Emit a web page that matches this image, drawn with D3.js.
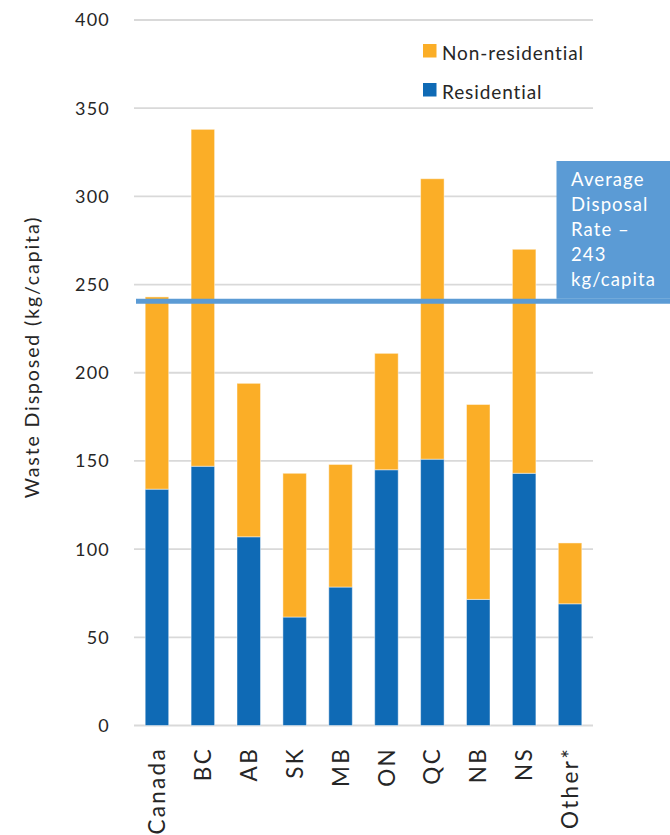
<!DOCTYPE html>
<html>
<head>
<meta charset="utf-8">
<script src="https://cdn.jsdelivr.net/npm/d3@7"></script>
<style>
  html,body{margin:0;padding:0;background:#fff;}
  svg{display:block;font-family:Lato,'Open Sans',sans-serif;}
</style>
</head>
<body>
<svg id="chart" width="670" height="835"></svg>
<script>
/* ── data ── */
var regions=['Canada','BC','AB','SK','MB','ON','QC','NB','NS','Other*'];
var residential=[134,147,107,61.5,78.5,145,151,71.5,143,69];
var totals=[243,338,194,143,148,211,310,182,270,103.5];
var nonResidential=totals.map(function(t,i){return t-residential[i];});
var yTicks=[0,50,100,150,200,250,300,350,400];
var avgLine=240.5;
var avgLabel=['Average','Disposal','Rate –','243','kg/capita'];
var legendItems=[{name:'Non-residential',col:'#FBAE27'},{name:'Residential',col:'#0F6AB5'}];

var BLUE='#0F6AB5', ORANGE='#FBAE27', AVG='#5B9BD5';

var svg=d3.select('#chart');
var X0=134, X1=593;
var x=d3.scaleBand().domain(regions).range([X0,X1]).paddingInner(0.488).paddingOuter(0.244);
var y=d3.scaleLinear().domain([0,400]).range([725.5,20]);

/* ── gridlines ── */
svg.append('g').selectAll('line').data(yTicks).enter().append('line')
  .attr('x1',X0).attr('x2',X1)
  .attr('y1',function(d){return y(d);}).attr('y2',function(d){return y(d);})
  .attr('stroke','#d9d9d9').attr('stroke-width',1.8);

/* ── y tick labels ── */
svg.append('g').selectAll('text').data(yTicks).enter().append('text')
  .attr('x',110).attr('y',function(d){return y(d);}).attr('dy','0.36em')
  .attr('text-anchor','end').attr('font-size',18).attr('letter-spacing','1.2px')
  .attr('fill','#262626').text(function(d){return d;});

/* ── y title ── */
svg.append('text')
  .attr('transform','translate(39,357) rotate(-90)')
  .attr('text-anchor','middle').attr('font-size',19.5).attr('letter-spacing','1.9px')
  .attr('fill','#262626').text('Waste Disposed (kg/capita)');

/* ── stacked bars ── */
var bars=svg.append('g');
regions.forEach(function(r,i){
  bars.append('rect')
    .attr('x',x(r)).attr('width',x.bandwidth())
    .attr('y',y(residential[i])).attr('height',y(0)-y(residential[i]))
    .attr('fill',BLUE).attr('stroke','rgba(255,255,255,.45)').attr('stroke-width',1);
  bars.append('rect')
    .attr('x',x(r)).attr('width',x.bandwidth())
    .attr('y',y(totals[i])).attr('height',y(residential[i])-y(totals[i]))
    .attr('fill',ORANGE).attr('stroke','rgba(255,255,255,.45)').attr('stroke-width',1);
});

/* ── x labels ── */
svg.append('g').selectAll('text').data(regions).enter().append('text')
  .attr('transform',function(d){return 'translate('+(x(d)+x.bandwidth()/2)+',747) rotate(-90)';})
  .attr('dy','0.36em').attr('text-anchor','end')
  .attr('font-size',22.5).attr('letter-spacing','2.3px')
  .attr('fill','#262626').text(function(d){return d;});

/* ── average line + label box ── */
svg.append('line')
  .attr('x1',136).attr('x2',670)
  .attr('y1',y(avgLine)).attr('y2',y(avgLine))
  .attr('stroke',AVG).attr('stroke-width',5);
svg.append('rect')
  .attr('x',556.5).attr('y',161).attr('width',114).attr('height',y(avgLine)-2.5-161)
  .attr('fill',AVG);
svg.append('g').selectAll('text').data(avgLabel).enter().append('text')
  .attr('x',571).attr('y',function(d,i){return 186+i*25;})
  .attr('font-size',18.5).attr('letter-spacing','1.1px')
  .attr('fill','#fff').text(function(d){return d;});

/* ── legend ── */
var lg=svg.append('g');
legendItems.forEach(function(it,i){
  var yy=44+i*39;
  lg.append('rect').attr('x',423).attr('y',yy).attr('width',13.5).attr('height',13.5).attr('fill',it.col);
  lg.append('text').attr('x',442).attr('y',yy+15.5)
    .attr('font-size',19).attr('letter-spacing','0.9px')
    .attr('fill','#262626').text(it.name);
});
</script>
</body>
</html>
